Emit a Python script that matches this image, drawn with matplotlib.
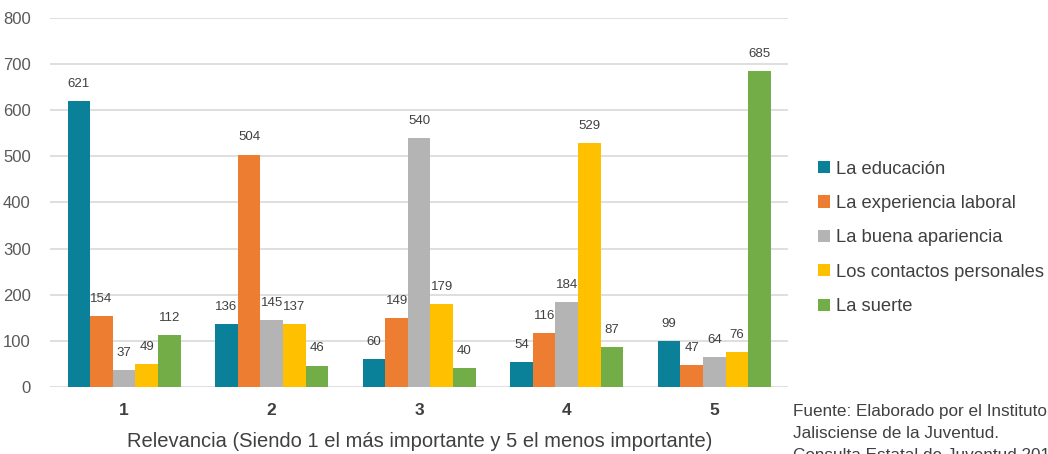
import matplotlib.pyplot as plt
import numpy as np

plt.rcParams['font.family'] = ['Liberation Sans', 'DejaVu Sans']

# === Data ===
categories = ['1', '2', '3', '4', '5']
series_names = ['La educación', 'La experiencia laboral', 'La buena apariencia',
                'Los contactos personales', 'La suerte']
educacion = [621, 136, 60, 54, 99]
experiencia = [154, 504, 149, 116, 47]
apariencia = [37, 145, 540, 184, 64]
contactos = [49, 137, 179, 529, 76]
suerte = [112, 46, 40, 87, 685]
colors = ['#0A8199', '#ED7D31', '#B4B4B4', '#FFC000', '#72AD47']

series = [educacion, experiencia, apariencia, contactos, suerte]

fig = plt.figure(figsize=(10.48, 4.54), dpi=100)
ax = fig.add_axes([0.048, 0.148, 0.704, 0.812])

x = np.arange(1, len(categories) + 1)
w = 0.153
for i, (vals, name, c) in enumerate(zip(series, series_names, colors)):
    pos = x + (i - 2) * w
    bars = ax.bar(pos, vals, w, color=c, label=name, zorder=3)
    for b, v in zip(bars, vals):
        ax.annotate(str(v), (b.get_x() + b.get_width() / 2, v), xytext=(0, 8),
                    textcoords='offset points', ha='center', va='bottom',
                    fontsize=9.5, color='#404040')

ax.set_xlim(0.5, 5.5)
ax.set_ylim(0, 800)
ax.set_yticks(range(0, 801, 100))
ax.set_xticks(x)
ax.set_xticklabels(categories, fontweight='bold', fontsize=12.5, color='#404040')
ax.tick_params(axis='y', labelsize=12, labelcolor='#595959', length=0, pad=14)
ax.tick_params(axis='x', length=0, pad=12)
ax.grid(axis='y', color='#D9D9D9', linewidth=1.2, zorder=0)
for s in ax.spines.values():
    s.set_visible(False)
ax.set_xlabel('Relevancia (Siendo 1 el más importante y 5 el menos importante)',
              fontsize=14.5, color='#404040', labelpad=10)

ax.legend(loc='center left', bbox_to_anchor=(1.018, 0.404), frameon=False,
          fontsize=13.2, labelcolor='#404040', handlelength=0.65, handleheight=0.65,
          handletextpad=0.35, labelspacing=0.95)

# footnote runs past the right/bottom edge, as in the original
fig.text(0.757, 0.111, 'Fuente: Elaborado por el Instituto\nJalisciense de la Juventud.\n'
         'Consulta Estatal de Juventud 2018', fontsize=12.3, color='#404040',
         va='top', linespacing=1.58)

fig.savefig('out.png', dpi=100)
